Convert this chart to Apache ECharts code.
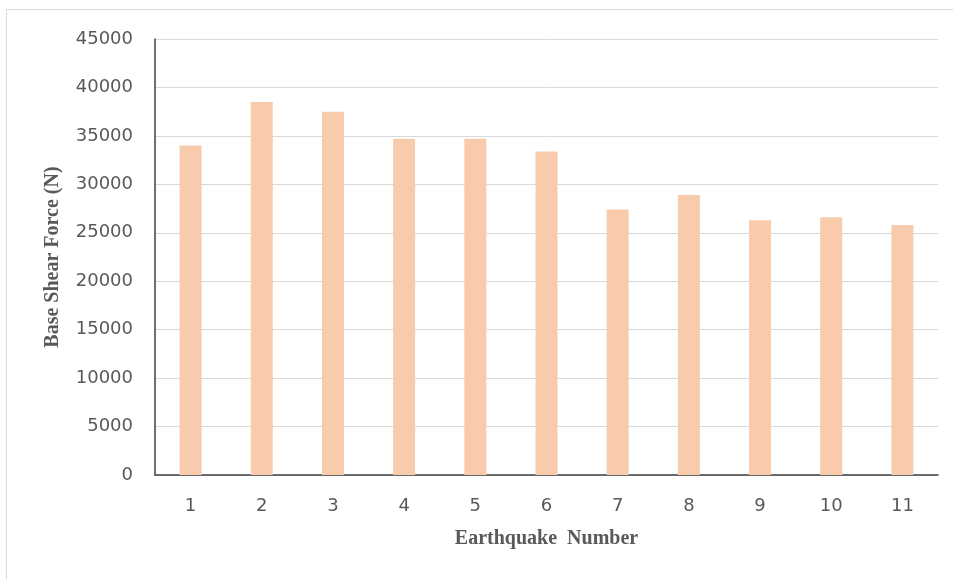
<!DOCTYPE html>
<html>
<head>
<meta charset="utf-8">
<script src="https://cdn.jsdelivr.net/npm/echarts@6/dist/echarts.min.js"></script>
<style>html,body{margin:0;padding:0;background:#fff;}#c{width:953px;height:579px;}</style>
</head>
<body>
<div id="c"></div>
<script>
var categories = ['1','2','3','4','5','6','7','8','9','10','11'];
var baseShear = [34000, 38500, 37500, 34700, 34700, 33400, 27400, 28900, 26300, 26600, 25800];
var yTicks = {min: 0, max: 45000, interval: 5000};

var chart = echarts.init(document.getElementById('c'));
chart.setOption({
  backgroundColor: '#fff',
  animation: false,
  graphic: [
    {type: 'line', shape: {x1: 6, y1: 9.5, x2: 953, y2: 9.5}, style: {stroke: '#d9d9d9', lineWidth: 1}},
    {type: 'line', shape: {x1: 6.5, y1: 9, x2: 6.5, y2: 579}, style: {stroke: '#d9d9d9', lineWidth: 1}}
  ],
  grid: {left: 155, right: 15, top: 39, bottom: 104},
  xAxis: {
    type: 'category',
    data: categories,
    name: 'Earthquake  Number',
    nameLocation: 'middle',
    nameGap: 54,
    nameTextStyle: {fontFamily: 'Liberation Serif', fontWeight: 'bold', fontSize: 20, color: '#595959'},
    axisLine: {lineStyle: {color: '#404040', width: 1.5}},
    axisTick: {show: false},
    axisLabel: {fontFamily: 'DejaVu Sans', fontSize: 18, color: '#595959', margin: 22}
  },
  yAxis: {
    type: 'value',
    min: yTicks.min,
    max: yTicks.max,
    interval: yTicks.interval,
    name: 'Base Shear Force (N)',
    nameLocation: 'middle',
    nameGap: 92,
    nameTextStyle: {fontFamily: 'Liberation Serif', fontWeight: 'bold', fontSize: 20, color: '#595959'},
    axisLine: {show: true, lineStyle: {color: '#404040', width: 1.5}},
    axisTick: {show: false},
    splitLine: {lineStyle: {color: '#d9d9d9', width: 1}},
    axisLabel: {fontFamily: 'DejaVu Sans', fontSize: 18, color: '#595959', margin: 22,
      formatter: function (v) { return String(v); }}
  },
  series: [{
    type: 'bar',
    data: baseShear,
    barWidth: 22,
    itemStyle: {color: '#F8CBAD'}
  }]
});
</script>
</body>
</html>
